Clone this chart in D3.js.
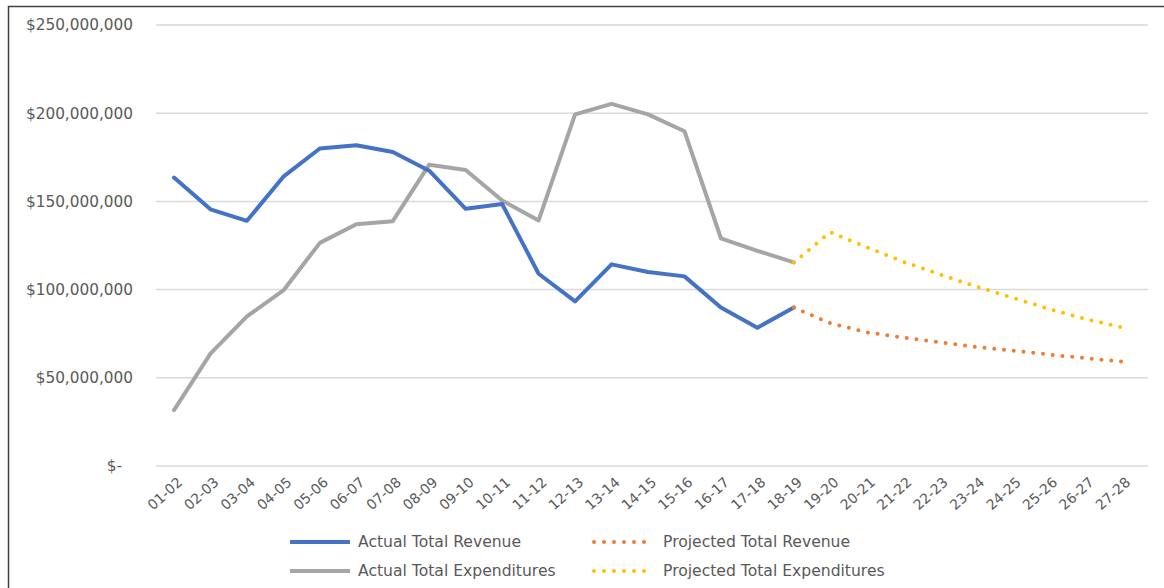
<!DOCTYPE html>
<html>
<head>
<meta charset="utf-8">
<script src="https://cdn.jsdelivr.net/npm/d3@7"></script>
<style>
  body { margin: 0; background: #fff; }
  svg text { font-family: "DejaVu Sans", sans-serif; fill: #595959; }
</style>
</head>
<body>
<script>
const years = ["01-02","02-03","03-04","04-05","05-06","06-07","07-08","08-09","09-10",
  "10-11","11-12","12-13","13-14","14-15","15-16","16-17","17-18","18-19","19-20",
  "20-21","21-22","22-23","23-24","24-25","25-26","26-27","27-28"];

// millions of dollars
const actualRevenue = [163.5,145.5,139,164,180,181.8,178,167.4,145.8,148.5,109,93.3,
  114.3,110,107.5,89.8,78.4,89.8];
const actualExpend = [31.7,63.7,84.8,99.5,126.5,137,138.8,170.8,167.8,150.5,139.2,199.3,
  205.3,199.3,189.8,129.1,122,115.4];
const projYears = years.slice(17);
const projRevenue = [89.8,80.9,75.8,72.8,70.1,67.5,65.4,63.2,61.1,59.2];
const projExpend = [115.4,132.6,124,115.8,108.6,101.8,95.4,89,83.3,78.6];

const yTicks = [0,50,100,150,200,250];

const series = [
  { name: "Actual Total Revenue", x: years.slice(0, 18), v: actualRevenue, color: "#4472C4", dotted: false },
  { name: "Projected Total Revenue", x: projYears, v: projRevenue, color: "#ED7D31", dotted: true },
  { name: "Actual Total Expenditures", x: years.slice(0, 18), v: actualExpend, color: "#A5A5A5", dotted: false },
  { name: "Projected Total Expenditures", x: projYears, v: projExpend, color: "#FFC000", dotted: true }
];

const width = 1164, height = 588;

const svg = d3.select("body").append("svg")
  .attr("width", width)
  .attr("height", height);

// frame of the pasted chart
svg.append("path")
  .attr("d", "M8.5," + height + "V6.5H" + width)
  .attr("fill", "none")
  .attr("stroke", "#404040")
  .attr("stroke-width", 1.5);

const x = d3.scalePoint().domain(years).range([174, 1122]);
const y = d3.scaleLinear().domain([0, 250]).range([466, 25]);

// gridlines
svg.append("g")
  .selectAll("line")
  .data(yTicks)
  .join("line")
  .attr("x1", 156)
  .attr("x2", 1148)
  .attr("y1", d => y(d))
  .attr("y2", d => y(d))
  .attr("stroke", "#D9D9D9")
  .attr("stroke-width", 1.5);

// y axis labels
const fmt = d => d === 0 ? "$-" : "$" + d3.format(",")(d * 1e6);
svg.append("g")
  .selectAll("text")
  .data(yTicks)
  .join("text")
  .attr("x", d => d === 0 ? 122 : 133)
  .attr("y", d => y(d))
  .attr("dy", "0.35em")
  .attr("text-anchor", "end")
  .style("font-size", "15.3px")
  .text(fmt);

// x axis labels
svg.append("g")
  .selectAll("text")
  .data(years)
  .join("text")
  .attr("transform", d => "translate(" + (x(d) + 6) + ",480) rotate(-42)")
  .attr("text-anchor", "end")
  .attr("dy", "0.35em")
  .style("font-size", "14px")
  .text(d => d);

const line = d3.line()
  .x(d => x(d[0]))
  .y(d => y(d[1]));

svg.append("g")
  .selectAll("path")
  .data([series[2], series[0], series[3], series[1]])
  .join("path")
  .attr("d", s => line(s.x.map((k, i) => [k, s.v[i]])))
  .attr("fill", "none")
  .attr("stroke", s => s.color)
  .attr("stroke-width", 4)
  .attr("stroke-linecap", "round")
  .attr("stroke-linejoin", "round")
  .attr("stroke-dasharray", s => s.dotted ? "0 9.8" : null);

// legend
const legendPos = [[290, 542], [592, 542], [290, 571], [592, 571]];
const legend = svg.append("g")
  .selectAll("g")
  .data(series)
  .join("g")
  .attr("transform", (s, i) => "translate(" + legendPos[i][0] + "," + legendPos[i][1] + ")");

legend.append("line")
  .attr("x1", s => s.dotted ? 2 : 0)
  .attr("x2", s => s.dotted ? 62 : 60)
  .attr("stroke", s => s.color)
  .attr("stroke-width", 4)
  .attr("stroke-linecap", s => s.dotted ? "round" : "butt")
  .attr("stroke-dasharray", s => s.dotted ? "0 10" : null);

legend.append("text")
  .attr("x", s => s.dotted ? 71 : 68)
  .attr("dy", "0.35em")
  .style("font-size", "15.6px")
  .text(s => s.name);
</script>
</body>
</html>
